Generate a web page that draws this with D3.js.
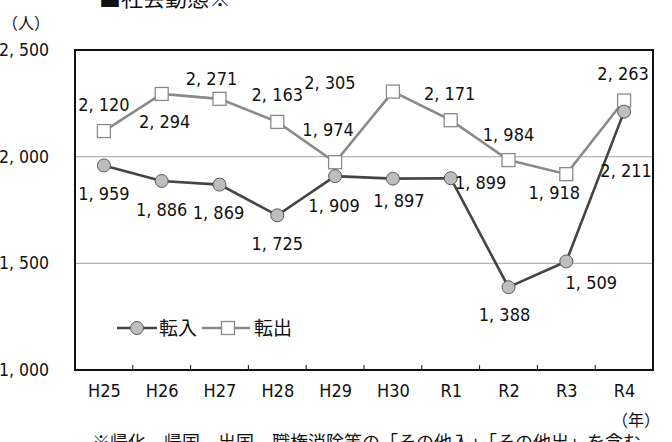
<!DOCTYPE html>
<html>
<head>
<meta charset="utf-8">
<script src="https://cdn.jsdelivr.net/npm/d3@7"></script>
<style>
  html, body { margin: 0; padding: 0; background: #fff; }
  svg { display: block; overflow: hidden; }
  .num { font-family: "Liberation Sans Narrow", "DejaVu Sans Condensed", "Noto Sans CJK JP", sans-serif; }
  .jp { font-family: "Noto Sans CJK JP", sans-serif; }
</style>
</head>
<body>
<div id="chart"></div>
<script>
// data
const years = ["H25", "H26", "H27", "H28", "H29", "H30", "R1", "R2", "R3", "R4"];
const moveIn = [1959, 1886, 1869, 1725, 1909, 1897, 1899, 1388, 1509, 2211];   // 転入
const moveOut = [2120, 2294, 2271, 2163, 1974, 2305, 2171, 1984, 1918, 2263];  // 転出
const yTicks = [1000, 1500, 2000, 2500];

// label placement relative to each point
const inLabelOffset = [[0, 28], [0, 29], [-1, 28], [0, 28], [-1, 29], [6, 22], [30, 4], [-4, 27], [25, 21], [2, 59]];
const outLabelOffset = [[0, -27], [3, 28], [-8, -20], [0, -27], [-7, -33], [-63, -9], [-1, -27], [0, -26], [-12, 18], [-1, -27]];

const width = 672, height = 442;
const plot = { left: 75, right: 653, top: 50, bottom: 370 };

const svg = d3.select("#chart").append("svg")
    .attr("width", width)
    .attr("height", height);

const x = d3.scalePoint().domain(years).range([plot.left, plot.right]).padding(0.5);
const xb = d3.scaleBand().domain(years).range([plot.left, plot.right]);
const y = d3.scaleLinear().domain([1000, 2500]).range([plot.bottom, plot.top]);

const fmt = v => d3.format(",")(v).replace(",", ", ");

// title (cut off at top)
svg.append("text").attr("class", "jp")
    .attr("x", 99).attr("y", 6)
    .attr("font-size", 22).attr("fill", "#111")
    .text("■社会動態※");

svg.append("text").attr("class", "jp")
    .attr("x", 26).attr("y", 29)
    .attr("text-anchor", "middle")
    .attr("font-size", 16).attr("fill", "#111")
    .text("（人）");

// gridlines
svg.append("g")
    .selectAll("line")
    .data([1500, 2000])
    .join("line")
    .attr("x1", plot.left).attr("x2", plot.right)
    .attr("y1", d => y(d)).attr("y2", d => y(d))
    .attr("stroke", "#b4b4b4").attr("stroke-width", 1.2);

// y axis labels
const yAxis = svg.append("g")
    .attr("transform", `translate(${plot.left},0)`)
    .call(d3.axisLeft(y).tickValues(yTicks).tickSize(0).tickPadding(26).tickFormat(fmt));
yAxis.select(".domain").remove();
yAxis.selectAll("text")
    .attr("class", "num")
    .attr("font-size", 17.5).attr("fill", "#111");

// x axis labels
const xAxis = svg.append("g")
    .attr("transform", `translate(0,${plot.bottom})`)
    .call(d3.axisBottom(x).tickSize(0).tickPadding(14));
xAxis.select(".domain").remove();
xAxis.selectAll("text")
    .attr("class", "num")
    .attr("font-size", 18).attr("fill", "#111");

// inner ticks at category boundaries
svg.append("g")
    .selectAll("line")
    .data(years.slice(1))
    .join("line")
    .attr("x1", d => xb(d)).attr("x2", d => xb(d))
    .attr("y1", plot.bottom).attr("y2", plot.bottom - 5)
    .attr("stroke", "#111").attr("stroke-width", 1);

// plot frame
svg.append("rect")
    .attr("x", plot.left).attr("y", plot.top)
    .attr("width", plot.right - plot.left).attr("height", plot.bottom - plot.top)
    .attr("fill", "none").attr("stroke", "#111").attr("stroke-width", 2);

const line = d3.line().x((d, i) => x(years[i])).y(d => y(d));

// 転出 series
svg.append("path").datum(moveOut)
    .attr("d", line)
    .attr("fill", "none").attr("stroke", "#8a8a8a").attr("stroke-width", 2.6);

// 転入 series
svg.append("path").datum(moveIn)
    .attr("d", line)
    .attr("fill", "none").attr("stroke", "#444").attr("stroke-width", 2.6);

svg.append("g")
    .selectAll("rect")
    .data(moveOut)
    .join("rect")
    .attr("x", (d, i) => x(years[i]) - 6.5)
    .attr("y", d => y(d) - 6.5)
    .attr("width", 13).attr("height", 13)
    .attr("fill", "#fff").attr("stroke", "#8a8a8a").attr("stroke-width", 1.3);

svg.append("g")
    .selectAll("circle")
    .data(moveIn)
    .join("circle")
    .attr("cx", (d, i) => x(years[i]))
    .attr("cy", d => y(d))
    .attr("r", 6.5)
    .attr("fill", "#bdbdbd").attr("stroke", "#5a5a5a").attr("stroke-width", 1);

// value labels
function labels(values, offsets) {
    svg.append("g")
        .selectAll("text")
        .data(values)
        .join("text")
        .attr("class", "num")
        .attr("x", (d, i) => x(years[i]) + offsets[i][0])
        .attr("y", (d, i) => y(d) + offsets[i][1])
        .attr("text-anchor", "middle")
        .attr("dominant-baseline", "central")
        .attr("font-size", 18).attr("fill", "#111")
        .text(fmt);
}
labels(moveOut, outLabelOffset);
labels(moveIn, inLabelOffset);

// legend
const lg = svg.append("g").attr("transform", "translate(0,328)");
lg.append("line").attr("x1", 117).attr("x2", 157).attr("stroke", "#444").attr("stroke-width", 2.6);
lg.append("circle").attr("cx", 137).attr("r", 6.5).attr("fill", "#bdbdbd").attr("stroke", "#5a5a5a");
lg.append("text").attr("class", "jp").attr("x", 159).attr("dy", "0.35em")
    .attr("font-size", 19).attr("fill", "#111").text("転入");
lg.append("line").attr("x1", 202).attr("x2", 250).attr("stroke", "#8a8a8a").attr("stroke-width", 2.6);
lg.append("rect").attr("x", 221.5).attr("y", -6.5).attr("width", 13).attr("height", 13)
    .attr("fill", "#fff").attr("stroke", "#8a8a8a").attr("stroke-width", 1.3);
lg.append("text").attr("class", "jp").attr("x", 254).attr("dy", "0.35em")
    .attr("font-size", 19).attr("fill", "#111").text("転出");

// unit and footnote
svg.append("text").attr("class", "jp")
    .attr("x", 636).attr("y", 426)
    .attr("text-anchor", "middle")
    .attr("font-size", 16).attr("fill", "#111")
    .text("（年）");

svg.append("text").attr("class", "jp")
    .attr("x", 92).attr("y", 449)
    .attr("font-size", 18).attr("fill", "#111")
    .text("※帰化、帰国、出国、職権消除等の「その他入」「その他出」を含む");
</script>
</body>
</html>
